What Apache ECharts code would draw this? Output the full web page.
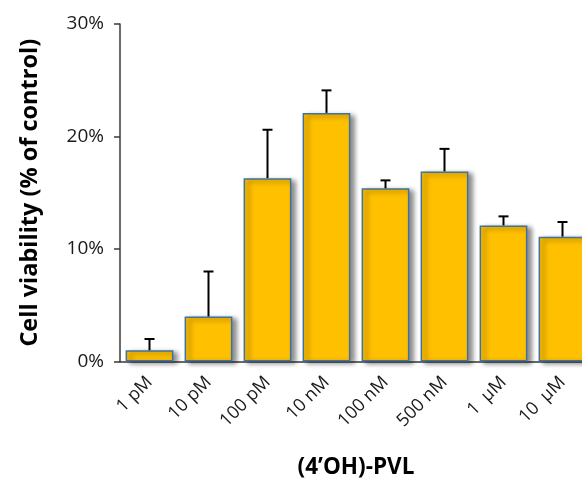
<!DOCTYPE html>
<html>
<head>
<meta charset="utf-8">
<style>
  html, body { margin: 0; padding: 0; background: #fff; overflow: hidden; }
  /* plot runs past the right edge of the window, as in the cropped original */
  #chart { width: 592px; height: 480px; }
</style>
<script src="https://cdn.jsdelivr.net/npm/echarts@6/dist/echarts.min.js"></script>
</head>
<body>
<div id="chart"></div>
<script>
const doses = ['1 pM', '10 pM', '100 pM', '10 nM', '100 nM', '500 nM', '1  µM', '10  µM']
const viability = [1.0, 4.0, 16.3, 22.1, 15.4, 16.9, 12.1, 11.1]
const sdUp = [1.0, 4.0, 4.3, 2.0, 0.7, 2.0, 0.8, 1.3]
const yTicks = [0, 10, 20, 30]

const font = '"Open Sans", "Noto Sans", sans-serif'
const myChart = echarts.init(document.getElementById('chart'))

// error bar data: [index, mean, err]
const errData = viability.map((v, i) => [i, v, sdUp[i]])

const option = {
  animation: false,
  grid: { left: 120, top: 24, right: 0, bottom: 118.5, outerBoundsMode: 'none' },
  xAxis: {
    type: 'category',
    data: doses,
    name: '(4’OH)-PVL',
    nameLocation: 'middle',
    nameGap: 95,
    nameTextStyle: { fontFamily: font, fontSize: 22.5, fontWeight: 'bold', color: '#000' },
    axisLine: { lineStyle: { color: '#3a3a3a', width: 1.5 } },
    axisTick: { show: false },
    axisLabel: { rotate: 45, margin: 18, fontFamily: font, fontSize: 18, color: '#1a1a1a' }
  },
  yAxis: {
    type: 'value',
    min: yTicks[0],
    max: yTicks[yTicks.length - 1],
    interval: 10,
    name: 'Cell viability (% of control)',
    nameLocation: 'middle',
    nameGap: 78,
    nameTextStyle: { fontFamily: font, fontSize: 23.5, fontWeight: 'bold', color: '#000' },
    splitLine: { show: false },
    axisLine: { show: true, lineStyle: { color: '#3a3a3a', width: 1.5 } },
    axisTick: { show: true, length: 6, lineStyle: { color: '#3a3a3a', width: 1.5 } },
    axisLabel: { formatter: '{value}%', margin: 16, fontFamily: font, fontSize: 19, color: '#1a1a1a' }
  },
  series: [
    {
      type: 'bar',
      data: viability,
      barCategoryGap: '19%',
      itemStyle: {
        color: '#FFC000',
        borderColor: '#41719C',
        borderWidth: 1.5,
        shadowColor: 'rgba(0,0,0,0.45)',
        shadowBlur: 5,
        shadowOffsetX: 4,
        shadowOffsetY: 2
      }
    },
    {
      type: 'custom',
      data: errData,
      z: 5,
      renderItem: function (params, api) {
        const i = api.value(0)
        const top = api.coord([i, api.value(1) + api.value(2)])
        const base = api.coord([i, api.value(1)])
        const half = 5
        const style = { stroke: '#000', lineWidth: 2, fill: null }
        return {
          type: 'group',
          children: [
            { type: 'line', shape: { x1: top[0], y1: base[1], x2: top[0], y2: top[1] }, style: style },
            { type: 'line', shape: { x1: top[0] - half, y1: top[1], x2: top[0] + half, y2: top[1] }, style: style }
          ]
        }
      }
    }
  ]
}

myChart.setOption(option)
</script>
</body>
</html>
